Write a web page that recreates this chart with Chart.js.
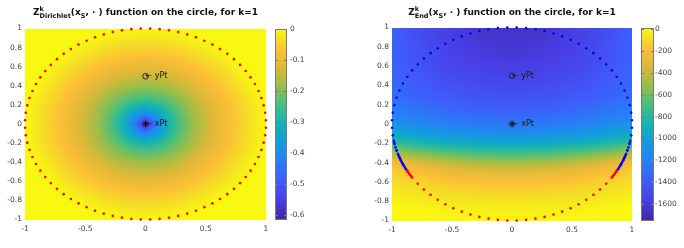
<!DOCTYPE html>
<html>
<head>
<meta charset="utf-8">
<script src="https://cdn.jsdelivr.net/npm/chart.js@4/dist/chart.umd.min.js"></script>
<style>
  body { margin: 0; background: #fff; width: 684px; height: 248px; position: relative; overflow: hidden; font-family: "DejaVu Sans", sans-serif; }
  canvas { position: absolute; top: 0; }
  #left { left: 0; }
  #right { left: 342px; }
  .ttl { position: absolute; top: 6px; font-weight: bold; font-size: 9px; line-height: 12px; color: #111; white-space: nowrap; transform: translateX(-50%); }
  .ss { display: inline-flex; flex-direction: column; font-size: 6.5px; line-height: 6.5px; vertical-align: 4px; }
  .sb { font-size: 6.5px; vertical-align: -2.5px; }
</style>
</head>
<body>
<canvas id="left" width="342" height="248"></canvas>
<canvas id="right" width="342" height="248"></canvas>
<div class="ttl" style="left:145.5px">Z<span class="ss"><span>k</span><span>Dirichlet</span></span>(x<span class="sb">S</span>, · ) function on the circle, for k=1</div>
<div class="ttl" style="left:512px">Z<span class="ss"><span>k</span><span>End</span></span>(x<span class="sb">S</span>, · ) function on the circle, for k=1</div>
<script>
// axes ticks
const xTicks = [-1, -0.5, 0, 0.5, 1];
const yTicks = [-1, -0.8, -0.6, -0.4, -0.2, 0, 0.2, 0.4, 0.6, 0.8, 1];

// grid where the field values were read (columns x, rows y from top)
const gridX = [-1, -0.9, -0.8, -0.7, -0.6, -0.5, -0.4, -0.3, -0.2, -0.1, 0, 0.1, 0.2, 0.3, 0.4, 0.5, 0.6, 0.7, 0.8, 0.9, 1];
const gridY = [1, 0.9, 0.8, 0.7, 0.6, 0.5, 0.4, 0.3, 0.2, 0.1, 0, -0.1, -0.2, -0.3, -0.4, -0.5, -0.6, -0.7, -0.8, -0.9, -1];

// colorbar ticks and limits
const dirichletCbTicks = [0, -0.1, -0.2, -0.3, -0.4, -0.5, -0.6];
const dirichletLimits = [-0.613, 0.003];
const endCbTicks = [0, -200, -400, -600, -800, -1000, -1200, -1400, -1600];
const endLimits = [-1750, 15];

// Z Dirichlet values
const dirichletZ = [
  [0,0,0,0,0,0,0,0,0,0,0,0,0,0,0,0,0,0,0,0,0],
  [0,0,0,0,0,0,-0.003,-0.011,-0.017,-0.021,-0.022,-0.021,-0.017,-0.011,-0.003,0,0,0,0,0,0],
  [0,0,0,0,0,-0.012,-0.023,-0.033,-0.04,-0.045,-0.046,-0.045,-0.04,-0.033,-0.023,-0.012,0,0,0,0,0],
  [0,0,0,-0.002,-0.017,-0.031,-0.045,-0.056,-0.065,-0.071,-0.073,-0.071,-0.065,-0.056,-0.045,-0.031,-0.017,-0.002,0,0,0],
  [0,0,0,-0.017,-0.034,-0.051,-0.067,-0.081,-0.093,-0.101,-0.103,-0.101,-0.093,-0.081,-0.067,-0.051,-0.034,-0.017,0,0,0],
  [0,0,-0.012,-0.031,-0.051,-0.071,-0.091,-0.109,-0.124,-0.135,-0.138,-0.135,-0.124,-0.109,-0.091,-0.071,-0.051,-0.031,-0.012,0,0],
  [0,-0.003,-0.023,-0.045,-0.067,-0.091,-0.115,-0.138,-0.16,-0.17,-0.18,-0.17,-0.16,-0.138,-0.115,-0.091,-0.067,-0.045,-0.023,-0.003,0],
  [0,-0.011,-0.033,-0.056,-0.081,-0.109,-0.138,-0.17,-0.2,-0.22,-0.23,-0.22,-0.2,-0.17,-0.138,-0.109,-0.081,-0.056,-0.033,-0.011,0],
  [0,-0.017,-0.04,-0.065,-0.093,-0.124,-0.16,-0.2,-0.24,-0.28,-0.3,-0.28,-0.24,-0.2,-0.16,-0.124,-0.093,-0.065,-0.04,-0.017,0],
  [0,-0.021,-0.045,-0.071,-0.101,-0.135,-0.17,-0.22,-0.28,-0.36,-0.41,-0.36,-0.28,-0.22,-0.17,-0.135,-0.101,-0.071,-0.045,-0.021,0],
  [0,-0.022,-0.046,-0.073,-0.103,-0.138,-0.18,-0.23,-0.3,-0.41,-0.61,-0.41,-0.3,-0.23,-0.18,-0.138,-0.103,-0.073,-0.046,-0.022,0],
  [0,-0.021,-0.045,-0.071,-0.101,-0.135,-0.17,-0.22,-0.28,-0.36,-0.41,-0.36,-0.28,-0.22,-0.17,-0.135,-0.101,-0.071,-0.045,-0.021,0],
  [0,-0.017,-0.04,-0.065,-0.093,-0.124,-0.16,-0.2,-0.24,-0.28,-0.3,-0.28,-0.24,-0.2,-0.16,-0.124,-0.093,-0.065,-0.04,-0.017,0],
  [0,-0.011,-0.033,-0.056,-0.081,-0.109,-0.138,-0.17,-0.2,-0.22,-0.23,-0.22,-0.2,-0.17,-0.138,-0.109,-0.081,-0.056,-0.033,-0.011,0],
  [0,-0.003,-0.023,-0.045,-0.067,-0.091,-0.115,-0.138,-0.16,-0.17,-0.18,-0.17,-0.16,-0.138,-0.115,-0.091,-0.067,-0.045,-0.023,-0.003,0],
  [0,0,-0.012,-0.031,-0.051,-0.071,-0.091,-0.109,-0.124,-0.135,-0.138,-0.135,-0.124,-0.109,-0.091,-0.071,-0.051,-0.031,-0.012,0,0],
  [0,0,0,-0.017,-0.034,-0.051,-0.067,-0.081,-0.093,-0.101,-0.103,-0.101,-0.093,-0.081,-0.067,-0.051,-0.034,-0.017,0,0,0],
  [0,0,0,-0.002,-0.017,-0.031,-0.045,-0.056,-0.065,-0.071,-0.073,-0.071,-0.065,-0.056,-0.045,-0.031,-0.017,-0.002,0,0,0],
  [0,0,0,0,0,-0.012,-0.023,-0.033,-0.04,-0.045,-0.046,-0.045,-0.04,-0.033,-0.023,-0.012,0,0,0,0,0],
  [0,0,0,0,0,0,-0.003,-0.011,-0.017,-0.021,-0.022,-0.021,-0.017,-0.011,-0.003,0,0,0,0,0,0],
  [0,0,0,0,0,0,0,0,0,0,0,0,0,0,0,0,0,0,0,0,0]
];

// Z End values
const endZ = [
  [-1350,-1410,-1460,-1500,-1540,-1580,-1600,-1620,-1640,-1650,-1650,-1650,-1640,-1620,-1600,-1580,-1540,-1500,-1460,-1410,-1350],
  [-1360,-1410,-1460,-1500,-1540,-1570,-1600,-1620,-1630,-1640,-1640,-1640,-1630,-1620,-1600,-1570,-1540,-1500,-1460,-1410,-1360],
  [-1360,-1410,-1450,-1490,-1530,-1560,-1580,-1600,-1610,-1620,-1620,-1620,-1610,-1600,-1580,-1560,-1530,-1490,-1450,-1410,-1360],
  [-1360,-1410,-1450,-1480,-1510,-1540,-1560,-1580,-1590,-1600,-1600,-1600,-1590,-1580,-1560,-1540,-1510,-1480,-1450,-1410,-1360],
  [-1350,-1390,-1430,-1460,-1490,-1520,-1540,-1550,-1560,-1570,-1570,-1570,-1560,-1550,-1540,-1520,-1490,-1460,-1430,-1390,-1350],
  [-1340,-1380,-1410,-1440,-1470,-1490,-1510,-1520,-1530,-1540,-1540,-1540,-1530,-1520,-1510,-1490,-1470,-1440,-1410,-1380,-1340],
  [-1320,-1350,-1380,-1410,-1440,-1450,-1470,-1480,-1490,-1500,-1500,-1500,-1490,-1480,-1470,-1450,-1440,-1410,-1380,-1350,-1320],
  [-1300,-1330,-1360,-1380,-1400,-1420,-1430,-1450,-1450,-1460,-1460,-1460,-1450,-1450,-1430,-1420,-1400,-1380,-1360,-1330,-1300],
  [-1250,-1280,-1300,-1330,-1350,-1360,-1380,-1390,-1390,-1400,-1400,-1400,-1390,-1390,-1380,-1360,-1350,-1330,-1300,-1280,-1250],
  [-1180,-1210,-1230,-1260,-1280,-1290,-1310,-1320,-1320,-1330,-1330,-1330,-1320,-1320,-1310,-1290,-1280,-1260,-1230,-1210,-1180],
  [-1090,-1120,-1150,-1170,-1190,-1210,-1220,-1240,-1240,-1250,-1250,-1250,-1240,-1240,-1220,-1210,-1190,-1170,-1150,-1120,-1090],
  [-950,-980,-1010,-1040,-1060,-1080,-1100,-1110,-1120,-1130,-1130,-1130,-1120,-1110,-1100,-1080,-1060,-1040,-1010,-980,-950],
  [-740,-780,-820,-850,-880,-900,-920,-940,-950,-960,-960,-960,-950,-940,-920,-900,-880,-850,-820,-780,-740],
  [-460,-510,-550,-590,-630,-650,-680,-700,-710,-720,-720,-720,-710,-700,-680,-650,-630,-590,-550,-510,-460],
  [-230,-280,-320,-360,-390,-420,-440,-460,-470,-480,-480,-480,-470,-460,-440,-420,-390,-360,-320,-280,-230],
  [-130,-160,-200,-220,-250,-270,-280,-290,-300,-310,-310,-310,-300,-290,-280,-270,-250,-220,-200,-160,-130],
  [-80,-100,-120,-140,-160,-170,-180,-190,-200,-200,-200,-200,-200,-190,-180,-170,-160,-140,-120,-100,-80],
  [-40,-60,-70,-80,-90,-100,-110,-110,-120,-120,-120,-120,-120,-110,-110,-100,-90,-80,-70,-60,-40],
  [-10,-20,-30,-40,-40,-50,-50,-60,-60,-60,-60,-60,-60,-60,-50,-50,-40,-40,-30,-20,-10],
  [10,5,-3,-8,-12,-16,-19,-22,-24,-25,-25,-25,-24,-22,-19,-16,-12,-8,-3,5,10],
  [15,11,8,5,2,0,-2,-3,-4,-5,-5,-5,-4,-3,-2,0,2,5,8,11,15]
];

// boundary points on the unit circle, angle in degrees
const dirichletRedDeg = [2.25, 6.75, 11.25, 15.75, 20.25, 24.75, 29.25, 33.75, 38.25, 42.75, 47.25, 51.75, 56.25, 60.75, 65.25, 69.75,
  74.25, 78.75, 83.25, 87.75, 92.25, 96.75, 101.25, 105.75, 110.25, 114.75, 119.25, 123.75, 128.25, 132.75, 137.25, 141.75,
  146.25, 150.75, 155.25, 159.75, 164.25, 168.75, 173.25, 177.75, 182.25, 186.75, 191.25, 195.75, 200.25, 204.75, 209.25, 213.75,
  218.25, 222.75, 227.25, 231.75, 236.25, 240.75, 245.25, 249.75, 254.25, 258.75, 263.25, 267.75, 272.25, 276.75, 281.25, 285.75,
  290.25, 294.75, 299.25, 303.75, 308.25, 312.75, 317.25, 321.75, 326.25, 330.75, 335.25, 339.75, 344.25, 348.75, 353.25, 357.75];
const endBlueDeg = [-24.75, -20.25, -15.75, -11.25, -6.75, -2.25, 2.25, 6.75, 11.25, 15.75, 20.25, 24.75, 29.25, 33.75, 38.25, 42.75,
  47.25, 51.75, 56.25, 60.75, 65.25, 69.75, 74.25, 78.75, 83.25, 87.75, 92.25, 96.75, 101.25, 105.75, 110.25, 114.75, 119.25,
  123.75, 128.25, 132.75, 137.25, 141.75, 146.25, 150.75, 155.25, 159.75, 164.25, 168.75, 173.25, 177.75, 182.25, 186.75, 191.25,
  195.75, 200.25, 204.75, 190, 192, 194, 196, 198, 199, 200, 201, 202, 203, 204, 205, 206, 207, 208,
  -28, -27, -26, -25, -24, -23, -22, -21, -20, -19, -18, -16, -14, -12, -10];
const endRedDeg = [209.25, 213.75, 218.25, 222.75, 227.25, 231.75, 236.25, 240.75, 245.25, 249.75, 254.25, 258.75, 263.25, 267.75,
  272.25, 276.75, 281.25, 285.75, 290.25, 294.75, 299.25, 303.75, 308.25, 312.75, 317.25, 321.75, 326.25, 330.75,
  209, 210, 211, 212, 213, 327, 328, 329, 330, 331];

// marked points and their labels
const markX = [0, 0];
const markY = [0, 0.5];
const markText = ['\u2190 xPt', '\u2190 yPt'];

// parula-like colormap stops
const cmapStops = [
  [0.00, 62, 38, 168], [0.10, 72, 62, 228], [0.20, 64, 90, 250], [0.30, 40, 125, 248],
  [0.40, 18, 155, 222], [0.50, 20, 178, 180], [0.60, 70, 191, 128], [0.70, 150, 190, 75],
  [0.80, 220, 185, 55], [0.88, 252, 190, 55], [0.95, 245, 225, 35], [1.00, 249, 251, 14]
];

function cmap(t) {
  t = Math.min(1, Math.max(0, t));
  for (let i = 1; i < cmapStops.length; i++) {
    const b = cmapStops[i];
    if (t <= b[0]) {
      const a = cmapStops[i - 1];
      const f = (t - a[0]) / (b[0] - a[0]);
      return [a[1] + f * (b[1] - a[1]), a[2] + f * (b[2] - a[2]), a[3] + f * (b[3] - a[3])];
    }
  }
  return cmapStops[cmapStops.length - 1].slice(1);
}

function sampleGrid(z, vx, vy) {
  const n = gridX.length;
  let fx = (vx - gridX[0]) / (gridX[n - 1] - gridX[0]) * (n - 1);
  let fy = (gridY[0] - vy) / (gridY[0] - gridY[n - 1]) * (n - 1);
  fx = Math.min(Math.max(fx, 0), n - 1);
  fy = Math.min(Math.max(fy, 0), n - 1);
  const c = Math.min(Math.floor(fx), n - 2), r = Math.min(Math.floor(fy), n - 2);
  const tx = fx - c, ty = fy - r;
  const top = z[r][c] * (1 - tx) + z[r][c + 1] * tx;
  const bot = z[r + 1][c] * (1 - tx) + z[r + 1][c + 1] * tx;
  return top * (1 - ty) + bot * ty;
}

// field image + colorbar, drawn under the points
const fieldPlugin = {
  id: 'field',
  beforeDatasetsDraw(chart) {
    const { ctx, chartArea: a, scales } = chart;
    const z = chart.options.plugins.field.z;
    const lim = chart.options.plugins.field.limits;
    const x0 = Math.round(a.left), y0 = Math.round(a.top);
    const w = Math.round(a.right) - x0, h = Math.round(a.bottom) - y0;
    const img = ctx.createImageData(w, h);
    for (let py = 0; py < h; py++) {
      const vy = scales.y.getValueForPixel(y0 + py + 0.5);
      for (let px = 0; px < w; px++) {
        const vx = scales.x.getValueForPixel(x0 + px + 0.5);
        const col = cmap((sampleGrid(z, vx, vy) - lim[0]) / (lim[1] - lim[0]));
        const k = (py * w + px) * 4;
        img.data[k] = col[0]; img.data[k + 1] = col[1]; img.data[k + 2] = col[2]; img.data[k + 3] = 255;
      }
    }
    ctx.putImageData(img, x0, y0);

    // colorbar
    const cb = scales.cb;
    const bx = Math.round(a.right) + 9, bw = chart.options.plugins.field.barWidth;
    const t0 = Math.round(cb.getPixelForValue(lim[1])), t1 = Math.round(cb.getPixelForValue(lim[0]));
    for (let py = t0; py < t1; py++) {
      const col = cmap((cb.getValueForPixel(py + 0.5) - lim[0]) / (lim[1] - lim[0]));
      ctx.fillStyle = 'rgb(' + col.map(Math.round).join(',') + ')';
      ctx.fillRect(bx, py, bw, 1);
    }
    ctx.strokeStyle = '#7a7a7a';
    ctx.lineWidth = 1;
    ctx.strokeRect(bx + 0.5, t0 + 0.5, bw - 1, t1 - t0 - 1);
    cb.ticks.forEach(tk => {
      const py = Math.round(cb.getPixelForValue(tk.value)) + 0.5;
      ctx.beginPath();
      ctx.moveTo(bx + bw - 3, py); ctx.lineTo(bx + bw, py);
      ctx.moveTo(bx, py); ctx.lineTo(bx + 3, py);
      ctx.stroke();
    });
  },
  afterDatasetsDraw(chart) {
    const { ctx, scales } = chart;
    ctx.save();
    ctx.font = '8px "DejaVu Sans"';
    ctx.fillStyle = '#1a1a1a';
    ctx.textBaseline = 'middle';
    ctx.textAlign = 'left';
    markText.forEach((t, i) => {
      ctx.fillText(t, scales.x.getPixelForValue(markX[i]), scales.y.getPixelForValue(markY[i]));
    });
    ctx.restore();
  }
};

function circlePoints(deg) {
  return deg.map(d => ({ x: Math.cos(d * Math.PI / 180), y: Math.sin(d * Math.PI / 180) }));
}

function dotSet(deg, color) {
  return { data: circlePoints(deg), pointRadius: 1.3, pointBackgroundColor: color, pointBorderWidth: 0, showLine: false, clip: false };
}

const tickFont = { family: 'DejaVu Sans', size: 7.5 };
const tickColor = '#404040';

function makePanel(id, z, limits, cbTicks, dotSets, yAxisWidth, cbWidth, cbPad, barWidth) {
  const setTicks = arr => scale => { scale.ticks = arr.map(v => ({ value: v })); };
  const datasets = dotSets.concat([
    { data: [{ x: markX[0], y: markY[0] }], pointStyle: 'star', pointRadius: 3.5, pointBorderColor: '#111', pointBorderWidth: 1, clip: false },
    { data: [{ x: markX[1], y: markY[1] }], pointStyle: 'circle', pointRadius: 2.8, pointBackgroundColor: 'rgba(0,0,0,0)', pointBorderColor: '#222', pointBorderWidth: 1, clip: false }
  ]);
  return new Chart(document.getElementById(id), {
    type: 'scatter',
    data: { datasets },
    options: {
      responsive: false,
      animation: false,
      devicePixelRatio: 1,
      layout: { padding: { top: 24, left: 0, right: 0, bottom: 0 } },
      plugins: {
        legend: { display: false },
        tooltip: { enabled: false },
        field: { z, limits, barWidth }
      },
      scales: {
        x: {
          type: 'linear', min: -1, max: 1,
          afterBuildTicks: setTicks(xTicks),
          afterFit: s => { s.height = 18; },
          grid: { display: false, drawTicks: false },
          border: { display: false },
          ticks: { font: tickFont, color: tickColor, padding: 5, maxRotation: 0, autoSkip: false, callback: v => String(v) }
        },
        y: {
          type: 'linear', position: 'left', min: -1, max: 1,
          afterBuildTicks: setTicks(yTicks),
          afterFit: s => { s.width = yAxisWidth; },
          grid: { display: false, drawTicks: false },
          border: { display: false },
          ticks: { font: tickFont, color: tickColor, padding: 3, autoSkip: false, callback: v => String(v) }
        },
        cb: {
          type: 'linear', axis: 'y', position: 'right', min: limits[0], max: limits[1],
          afterBuildTicks: setTicks(cbTicks),
          afterFit: s => { s.width = cbWidth; },
          grid: { display: false, drawTicks: false },
          border: { display: false },
          ticks: { font: tickFont, color: tickColor, padding: cbPad, autoSkip: false, callback: v => String(v) }
        }
      }
    },
    plugins: [fieldPlugin]
  });
}

makePanel('left', dirichletZ, dirichletLimits, dirichletCbTicks,
  [dotSet(dirichletRedDeg, '#ff0000')], 25, 76, 24, 12);
makePanel('right', endZ, endLimits, endCbTicks,
  [dotSet(endRedDeg, '#ff0000'), dotSet(endBlueDeg, '#0000ff')], 50, 52, 23, 13);
</script>
</body>
</html>
